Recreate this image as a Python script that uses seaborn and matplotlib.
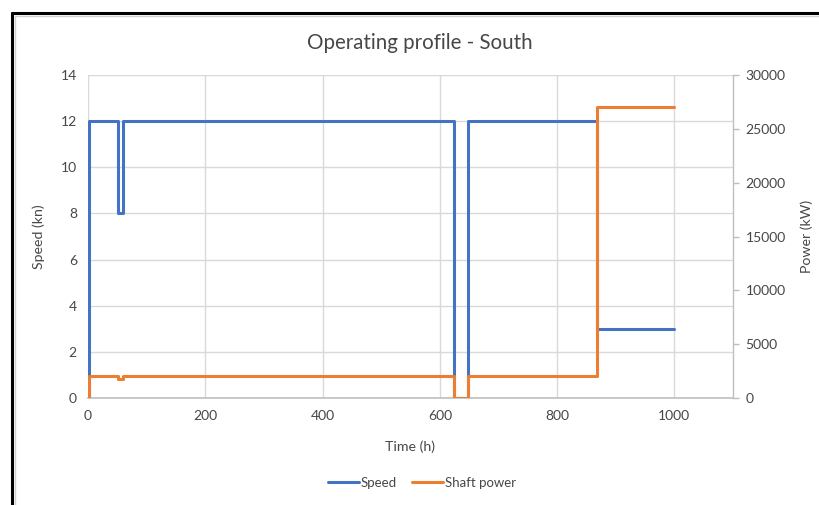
import matplotlib
matplotlib.use("Agg")
import matplotlib.pyplot as plt
from matplotlib.lines import Line2D
import seaborn as sns
import pandas as pd

# Operating profile: step changes in speed and shaft power over the voyage
time_h = [0, 1, 52, 59, 624, 648, 868, 1000]
speed_kn = [0, 12, 8, 12, 0, 12, 3, 3]
shaft_power_kw = [0, 2000, 1750, 2000, 0, 2000, 27000, 27000]

x_ticks = [0, 200, 400, 600, 800, 1000]
speed_ticks = [0, 2, 4, 6, 8, 10, 12, 14]
power_ticks = [0, 5000, 10000, 15000, 20000, 25000, 30000]

df = pd.DataFrame({"Time": time_h, "Speed": speed_kn, "Shaft power": shaft_power_kw})

sns.set_theme(style="white")
plt.rcParams["font.family"] = ["Lato", "DejaVu Sans"]

BLUE = "#4472C4"
ORANGE = "#ED7D31"
TXT = "#474747"
GRID = "#d9d9d9"
AXIS = "#bfbfbf"

fig = plt.figure(figsize=(8.19, 5.05), dpi=100)
fig.patch.set_facecolor("white")
ax = fig.add_axes([88 / 819, 1 - 398 / 505, 645 / 819, 323 / 505])
ax2 = ax.twinx()

sns.lineplot(data=df, x="Time", y="Speed", ax=ax, color=BLUE, linewidth=2.2,
             drawstyle="steps-post", sort=False, estimator=None)
sns.lineplot(data=df, x="Time", y="Shaft power", ax=ax2, color=ORANGE, linewidth=2.2,
             drawstyle="steps-post", sort=False, estimator=None)

ax.set_xlim(0, 1100)
ax.set_ylim(0, 14)
ax2.set_ylim(0, 30000)
ax.set_xticks(x_ticks)
ax.set_yticks(speed_ticks)
ax2.set_yticks(power_ticks)

ax.grid(True, color=GRID, linewidth=1.0)
ax.set_axisbelow(True)

for s in ["top", "left", "right"]:
    ax.spines[s].set_visible(False)
    ax2.spines[s].set_visible(False)
ax2.spines["right"].set_visible(True)
ax2.spines["right"].set_color(AXIS)
ax2.spines["right"].set_linewidth(1.0)
ax.spines["bottom"].set_color(AXIS)
ax.spines["bottom"].set_linewidth(1.2)
ax2.spines["bottom"].set_visible(False)

ax.tick_params(axis="x", length=0, pad=9, labelsize=10, labelcolor=TXT)
ax.tick_params(axis="y", length=0, pad=8, labelsize=10, labelcolor=TXT)
ax2.tick_params(axis="y", length=4, width=1, color=AXIS, direction="out",
                pad=5, labelsize=10, labelcolor=TXT)

ax.set_xlabel("Time (h)", fontsize=10.2, color=TXT)
ax.set_ylabel("Speed (kn)", fontsize=10.2, color=TXT)
ax2.set_ylabel("Power (kW)", fontsize=10.2, color=TXT)
ax.xaxis.set_label_coords(0.5, -0.13)
ax.yaxis.set_label_coords(-0.066, 0.5)
ax2.yaxis.set_label_coords(1.105, 0.5)

fig.text(420 / 819, 1 - 43 / 505, "Operating profile - South", ha="center", va="center",
         fontsize=14.8, color=TXT)

handles = [Line2D([], [], color=BLUE, linewidth=2.2),
           Line2D([], [], color=ORANGE, linewidth=2.2)]
fig.legend(handles, ["Speed", "Shaft power"], loc="center", bbox_to_anchor=(422 / 819, 1 - 483 / 505),
           ncol=2, frameon=False, fontsize=9.5, labelcolor=TXT, handlelength=2.3,
           handletextpad=0.15, columnspacing=1.2)

# chart frame border
fig.add_artist(Line2D([12 / 819, 12 / 819], [0, 1 - 13 / 505], transform=fig.transFigure,
                      color="black", linewidth=2.2))
fig.add_artist(Line2D([12 / 819, 1], [1 - 13 / 505, 1 - 13 / 505], transform=fig.transFigure,
                      color="black", linewidth=2.2))
fig.add_artist(Line2D([15.5 / 819, 15.5 / 819], [0, 1 - 16 / 505], transform=fig.transFigure,
                      color="#d0d0d0", linewidth=1.0))
fig.add_artist(Line2D([15.5 / 819, 1], [1 - 16 / 505, 1 - 16 / 505], transform=fig.transFigure,
                      color="#d0d0d0", linewidth=1.0))

ax.legend_ = None
fig.savefig("out.png", dpi=100)
